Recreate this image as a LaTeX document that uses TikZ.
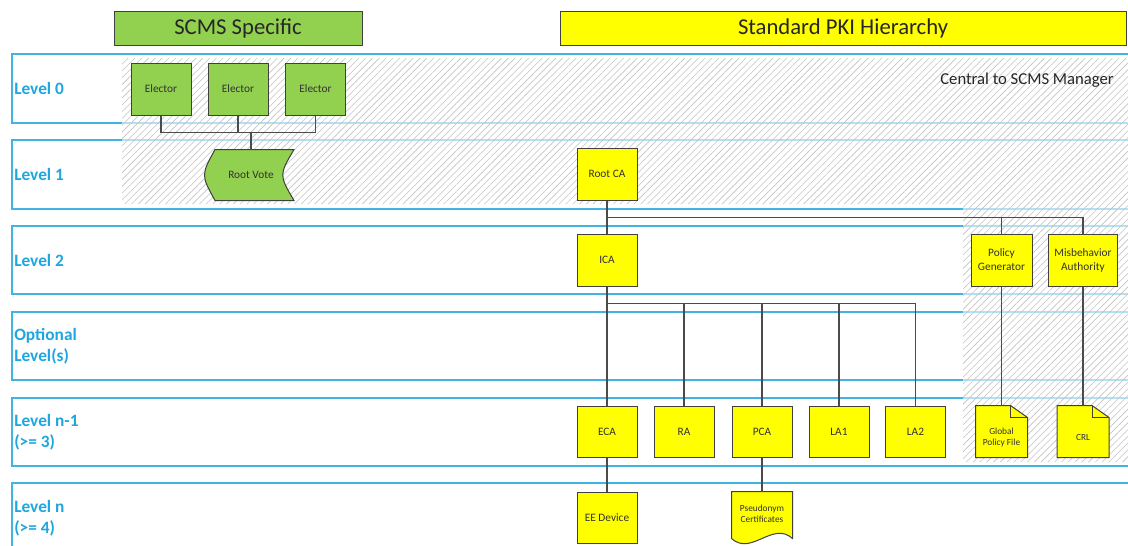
\documentclass[tikz,border=0pt]{standalone}
\usepackage{fontspec}
\setmainfont{Carlito}
\usetikzlibrary{patterns.meta,calc}
\definecolor{lane}{RGB}{64,180,228}
\definecolor{lanetext}{RGB}{30,166,222}
\definecolor{scmsgreen}{RGB}{146,208,80}
\definecolor{pkiyellow}{RGB}{255,255,0}
\definecolor{edge}{RGB}{64,64,64}
\definecolor{wirecol}{RGB}{75,75,75}
\definecolor{hatchcol}{RGB}{195,195,195}
\definecolor{boxtext}{RGB}{50,50,50}
\pgfdeclarelayer{back}
\pgfdeclarelayer{mid}
\pgfsetlayers{back,mid,main}

\begin{document}
\begin{tikzpicture}[x=0.75pt,y=-0.75pt,
  lanebox/.style={draw=lane,line width=1.5pt},
  levellabel/.style={anchor=west,text=lanetext,align=left,inner sep=0pt,
    font=\bfseries\fontsize{13}{16}\selectfont},
  header/.style={draw=edge,line width=0.75pt,text=black!85,
    minimum height=25.5pt,font=\fontsize{17}{20}\selectfont},
  box/.style={draw=edge,line width=0.75pt,fill=pkiyellow,minimum width=45pt,
    minimum height=39pt,inner sep=1pt,align=center,text=boxtext,
    font=\fontsize{8.5}{10.5}\selectfont},
  greenbox/.style={box,fill=scmsgreen},
  bare/.style={box,draw=none,fill=none},
  shapeline/.style={draw=edge,line width=0.75pt},
  smalltext/.style={font=\fontsize{7}{8.3}\selectfont,align=center,text=boxtext},
  wire/.style={draw=wirecol,line width=0.8pt},
  hatched/.style={pattern={Lines[angle=45,distance=3.6pt,line width=0.45pt]},
    pattern color=hatchcol},
]
\useasboundingbox (0,0) rectangle (1128,546);
\clip (0,0) rectangle (1128,546);

% swim lanes and the shaded zone behind them
\begin{pgfonlayer}{back}
  \foreach \t/\b in {54/123,140/209,226/294,312/380,398/466,483/552}
    \draw[lanebox] (1140,\t) -- (12,\t) -- (12,\b) -- (1140,\b);
  \fill[white,opacity=0.6] (122,58) -- (1132,58) -- (1132,462) -- (963,462)
    -- (963,204) -- (122,204) -- cycle;
  \fill[hatched] (122,58) -- (1132,58) -- (1132,462) -- (963,462)
    -- (963,204) -- (122,204) -- cycle;
\end{pgfonlayer}

% level labels
\node[levellabel] (l0)  at (14,88)  {Level 0};
\node[levellabel] (l1)  at (14,174) {Level 1};
\node[levellabel] (l2)  at (14,260) {Level 2};
\node[levellabel] (lo)  at (14,346) {Optional\\Level(s)};
\node[levellabel] (ln1) at (14,432) {Level n-1\\(>= 3)};
\node[levellabel] (ln)  at (14,518) {Level n\\(>= 4)};

% column headers
\node[header,fill=scmsgreen,minimum width=186pt] (hs) at (238,28) {SCMS Specific};
\node[header,fill=pkiyellow,minimum width=424.5pt] (hp) at (843,28) {Standard PKI Hierarchy};
\node[anchor=east,inner sep=0pt,text=black!85,font=\fontsize{12.5}{15}\selectfont]
  (cm) at (1114,80) {Central to SCMS Manager};

% SCMS-specific electors and root vote
\node[greenbox] (e1) at (161,89)   {Elector};
\node[greenbox] (e2) at (238,89)   {Elector};
\node[greenbox] (e3) at (315.5,89) {Elector};
\node[bare,minimum width=63.75pt,minimum height=37.5pt] (rv) at (251,175) {Root Vote};

% PKI hierarchy
\node[box] (rootca) at (607,174) {Root CA};
\node[box] (ica)    at (607,260) {ICA};
\node[box,minimum width=45.75pt] (pg) at (1001.5,260) {Policy\\Generator};
\node[box,minimum width=51.75pt] (ma) at (1083,260) {Misbehavior\\Authority};

\node[box,minimum height=38.25pt] (eca) at (607,431.5)   {ECA};
\node[box,minimum height=38.25pt] (ra)  at (684,431.5)   {RA};
\node[box,minimum height=38.25pt] (pca) at (762,431.5)   {PCA};
\node[box,minimum height=38.25pt] (la1) at (839,431.5)   {LA1};
\node[box,minimum height=38.25pt] (la2) at (915.5,431.5) {LA2};

\node[bare,minimum width=38.25pt,minimum height=38.25pt,
  label={[smalltext,yshift=-4.5pt]center:Global\\Policy File}] (gpf) at (1001.5,431.5) {};
\node[bare,minimum width=38.25pt,minimum height=38.25pt,
  label={[smalltext,yshift=-4.5pt]center:CRL}] (crl) at (1083,431.5) {};

\node[box,minimum height=38.25pt] (ee) at (607,517.5) {EE Device};
\node[bare,minimum height=34.5pt,smalltext,text depth=2pt] (pc) at (762,515) {Pseudonym\\Certificates};

% outlined shapes drawn behind their labels
\begin{pgfonlayer}{mid}
  % root vote: stored-data outline
  \filldraw[shapeline,fill=scmsgreen]
    ($(rv.north west)+(7,0)$) -- (rv.north east)
    .. controls ($(rv.east)+(-15,0)$) .. (rv.south east)
    -- ($(rv.south west)+(7,0)$)
    .. controls ($(rv.west)+(-7,0)$) .. ($(rv.north west)+(7,0)$) -- cycle;
  % folded-corner documents
  \foreach \n in {gpf,crl}{
    \filldraw[shapeline,fill=pkiyellow]
      (\n.north west) -- ($(\n.north east)+(-17,0)$) -- ($(\n.north east)+(0,12)$)
      -- (\n.south east) -- (\n.south west) -- cycle;
    \draw[shapeline] ($(\n.north east)+(-17,0)$) -- ($(\n.north east)+(-17,12)$)
      -- ($(\n.north east)+(0,12)$);
  }
  % document with wavy bottom
  \filldraw[shapeline,fill=pkiyellow]
    (pc.north west) -- (pc.north east) -- (pc.south east)
    .. controls ($(pc.south east)+(-20,-18)$) and ($(pc.south west)+(20,18)$) .. (pc.south west)
    -- cycle;
\end{pgfonlayer}

% connectors
\foreach \n in {e1,e2,e3}
  \draw[wire] (\n.south) -- ++(0,17) -| (rv.north);
\draw[wire] (rootca.south) -- (ica.north);
\draw[wire] (rootca.south) -- ++(0,17) -| (pg.north);
\draw[wire] (rootca.south) -- ++(0,17) -| (ma.north);
\draw[wire] (ica.south) -- (eca.north);
\foreach \n in {ra,pca,la1,la2}
  \draw[wire] (ica.south) -- ++(0,17) -| (\n.north);
\draw[wire] (pg.south) -- (gpf.north);
\draw[wire] (ma.south) -- (crl.north);
\draw[wire] (eca.south) -- (ee.north);
\draw[wire] (pca.south) -- (pc.north);
\end{tikzpicture}
\end{document}
